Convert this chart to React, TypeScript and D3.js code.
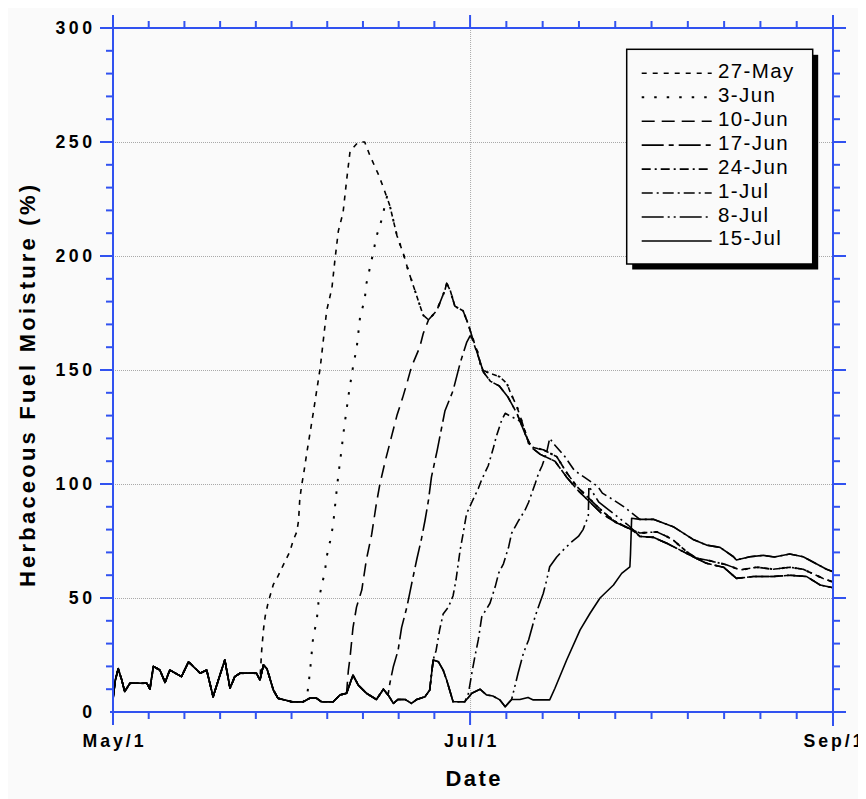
import React from "react";
import * as d3 from "d3";

type P = [number, number];

// x values are days counted from May 1 (May 1 = 0, Jul 1 = 61, Sep 1 = 123)
const xTickDays = [0, 61, 123];
const xTickLabels = ["May/1", "Jul/1", "Sep/1"];
const yTickValues = [0, 50, 100, 150, 200, 250, 300];
const yGridValues = [50, 100, 150, 200, 250];

const seriesNames = ["27-May", "3-Jun", "10-Jun", "17-Jun", "24-Jun", "1-Jul", "8-Jul", "15-Jul"];

// observed low (cured) moisture record shared by all series
const baseObs: P[] = [
  [0, 6], [0.4, 14], [0.9, 19], [1.5, 14], [2, 9], [2.9, 12.6], [5.8, 12.6], [6.3, 10], [6.9, 20],
  [8, 18.4], [8.9, 13], [9.7, 18.4], [11.7, 15.5], [12.9, 22], [14.9, 17], [16, 18.4], [17.1, 6.7],
  [18, 14], [19.1, 22.8], [20, 10.4], [20.8, 15.5], [21.7, 17], [24.5, 17], [25.1, 14], [25.7, 20.6],
  [26.3, 19], [27.4, 9.6], [28.2, 6], [30.5, 4.5], [32.5, 4.5], [33.6, 6], [34.8, 6], [35.6, 4.5],
  [37.6, 4.5], [38.8, 7.5], [39.9, 8.2], [41, 16.2], [41.9, 11.8], [43.3, 8.2], [45, 5.5], [46.2, 10],
  [47, 7.5], [47.9, 3.8], [48.7, 5.5], [49.9, 5.5], [51, 3.8], [51.9, 5.5], [53.3, 6.7], [54.1, 9.6],
  [54.7, 22.8], [55.6, 22], [56.4, 18.4], [57, 14], [58.1, 4.5], [60.1, 4.5], [61.3, 8.2], [62.7, 10],
  [63.8, 7.5], [64.9, 7], [66.1, 5.3], [67, 2.3], [68.1, 5.5], [69.5, 5.5], [70.9, 6.4], [71.8, 5.3],
  [74.6, 5.3],
];

const riseMay27: P[] = [
  [25.4, 27], [25.7, 36], [26, 42], [26.5, 48], [27.4, 56], [28, 58.6], [29.1, 64.5], [30.2, 70.3],
  [30.8, 75.4], [31.4, 79], [31.7, 84], [31.9, 93], [32.2, 99], [32.6, 105], [33.1, 113.5], [34.2, 131],
  [35.4, 151], [36.5, 176], [37.4, 186], [37.9, 198], [38.5, 211], [39.3, 219], [39.9, 233], [40.5, 246],
  [41.9, 250], [43, 250],
];
const riseJun3: P[] = [
  [33.1, 6], [33.4, 12], [33.7, 19], [34.2, 33], [34.8, 40], [35.1, 48], [35.6, 55], [36.2, 61.5],
  [36.5, 68], [37.1, 75], [37.6, 82], [38.2, 97], [38.5, 104], [38.8, 110], [39.5, 125], [40.3, 140],
  [41.1, 153], [41.6, 159], [42.2, 173], [43, 181], [43.3, 188], [43.9, 195], [44.5, 202], [45, 208.5],
  [45.9, 216], [46.8, 226],
];
const riseJun10: P[] = [
  [40.2, 18], [40.5, 24], [41, 37], [41.6, 46], [42.5, 53.5], [43.3, 67], [44.2, 78], [45, 91.5],
  [45.6, 100], [46.5, 110], [47.5, 120], [48.5, 130], [49.5, 138], [50.3, 145], [51, 151.5], [52.4, 160],
  [53, 166], [53.9, 172],
];
const riseJun17: P[] = [
  [47.3, 12.6], [47.9, 20], [48.7, 27], [49.3, 37], [50.2, 46], [51, 56], [51.9, 67], [52.7, 76],
  [53.3, 84], [53.9, 93], [54.4, 103], [55.4, 115], [56.7, 132], [58.1, 141], [59.3, 153], [60.4, 162],
  [61, 165],
];
const riseJun24: P[] = [
  [54.7, 23], [55.2, 27], [55.8, 36], [56.4, 43], [57.3, 46], [58.1, 51], [58.6, 58], [59.3, 71],
  [59.8, 78], [60.4, 87], [61.3, 92], [62.4, 98], [63, 102], [64.1, 108], [65, 116], [65.5, 121],
  [66.4, 128], [67, 131],
];
const riseJul1: P[] = [
  [60.7, 8], [61.3, 17], [61.8, 24], [62.4, 31.6], [63, 41.8], [64.4, 47.7], [65.3, 55], [65.9, 61],
  [66.7, 65], [67.6, 72.5], [68.1, 78.4], [69.3, 84], [70.4, 88.6], [71, 92], [72.1, 100], [72.7, 104.7],
  [73.3, 108], [74.1, 114], [74.6, 120], [75.5, 117], [77.2, 112], [78.8, 106], [80.5, 103], [82.8, 99],
  [83.6, 96], [85.5, 93], [87.3, 90],
];
const riseJul8: P[] = [
  [69.2, 17], [70.1, 25.7], [71, 31.6], [72.1, 41.8], [72.9, 47.7], [73.5, 52], [74.1, 58], [74.6, 63.7],
  [75.8, 68], [76.9, 71], [78.4, 74.7], [79.5, 77], [80.3, 80], [80.9, 84], [81.2, 86], [81.3, 99],
  [83, 92], [85.5, 87], [88, 82],
];
const riseJul15: P[] = [
  [75.5, 10.4], [77.5, 22.8], [79.8, 36], [81.5, 43.3], [83.2, 50], [85.5, 55.7], [86.9, 60.8],
  [88.3, 63.7], [88.4, 69], [88.6, 85],
];

const descentUpper: P[] = [
  [43, 250], [43.9, 244], [45.3, 236], [46.2, 230], [47.3, 222], [48.5, 209], [49.6, 201], [50.4, 194],
  [51.3, 187], [52.2, 180], [53, 174], [53.9, 172], [55.3, 176], [56.7, 185], [57, 188], [57.6, 185],
  [58.4, 178], [59.8, 176], [60.7, 170], [61.3, 165], [62.4, 157], [63, 150], [65, 148], [66.1, 147],
  [67.3, 144], [67.9, 140], [69, 134], [69.9, 127], [71, 118], [71.8, 116], [73.5, 115], [75.8, 112],
  [77.5, 105], [79.2, 99], [81.2, 94], [83.2, 89], [85.5, 84], [87.7, 81], [88.6, 80],
];
const descentLower: P[] = [
  [61.3, 164], [62.4, 156], [63.3, 149], [64.5, 145], [66, 143], [67.5, 138], [69, 131], [70.4, 122],
  [71.5, 116], [73, 113], [75.5, 110], [77.5, 103], [79.5, 97], [81.5, 92], [83.5, 87], [86, 83], [88.6, 80],
];
const bandTop: P[] = [
  [88.6, 85], [90, 84.5], [92.3, 84.5], [95.7, 81.3], [99.1, 75.7], [101.4, 73.2], [103.7, 72.2],
  [106, 68.1], [106.5, 66.7], [108.8, 68.1], [111.1, 68.7], [113, 68], [115.6, 69.3], [117.9, 68.1],
  [121.9, 62.6], [123, 61.5],
];
const bandMid: P[] = [
  [88.6, 80], [90, 78.5], [92.9, 79], [94.6, 77], [95.7, 75.4], [98, 70.3], [99.7, 67.4], [101.4, 66.7],
  [104.9, 64.5], [107.1, 62.3], [110, 63.5], [112.8, 62.6], [115.6, 63.5], [117.9, 62.6], [121.3, 58.6],
  [123, 57],
];
const bandLow: P[] = [
  [88.6, 79.8], [90, 77], [92.3, 76.6], [94.6, 74], [96.9, 71], [99.1, 68.1], [101.4, 65.2], [104.3, 63.5],
  [106.5, 58.6], [109.4, 59.4], [112.8, 59.4], [115.6, 60], [118.5, 59.4], [120.8, 55.7], [123, 54.5],
];

const pick = (arr: P[], from: number, to: number) => arr.filter(([d]) => d > from && d <= to);

const seriesData: P[][] = [
  [...pick(baseObs, -1, 25.1), ...riseMay27, ...pick(descentUpper, 43, 88.6), ...pick(bandMid, 88.6, 999)],
  [...pick(baseObs, -1, 32.5), ...riseJun3, ...pick(descentUpper, 46.8, 88.6), ...pick(bandMid, 88.6, 999)],
  [...pick(baseObs, -1, 39.9), ...riseJun10, ...pick(descentUpper, 53.9, 61.3), ...pick(descentLower, 61.3, 88.6), ...pick(bandLow, 88.6, 999)],
  [...pick(baseObs, -1, 47), ...riseJun17, ...pick(descentLower, 61, 88.6), ...pick(bandLow, 88.6, 999)],
  [...pick(baseObs, -1, 54.1), ...riseJun24, ...pick(descentUpper, 69.5, 88.6), ...pick(bandMid, 88.6, 999)],
  [...pick(baseObs, -1, 60.1), ...riseJul1, ...pick(bandTop, 89.5, 999)],
  [...pick(baseObs, -1, 68.1), ...riseJul8, ...pick(bandLow, 88.6, 999)],
  [...pick(baseObs, -1, 74.6), ...riseJul15, ...pick(bandTop, 88.6, 999)],
];

// styles
const seriesDash = ["5,6", "2.5,10", "13,7", "22,5,5,5", "9,4,2,4", "11,4,2,4", "22,4,2,4,2,4", ""];
const seriesWidth = [1.6, 2, 1.6, 1.6, 1.6, 1.6, 1.6, 1.6];
const FONT = "'Liberation Sans', Arial, Helvetica, sans-serif";
const BLUE = "#3152f0";

export default function App() {
  const x = d3.scaleLinear().domain([0, 123]).range([113, 833]);
  const y = d3.scaleLinear().domain([0, 300]).range([712, 28]);
  const line = d3.line<P>().x((d) => x(d[0])).y((d) => y(d[1]));

  const xMinor: number[] = [];
  for (let k = 0; k < xTickDays.length - 1; k++) {
    const a = xTickDays[k], b = xTickDays[k + 1];
    for (let i = 1; i < 10; i++) xMinor.push(a + ((b - a) * i) / 10);
  }
  const yMinor = d3.range(10, 300, 10).filter((v) => v % 50 !== 0);
  const xL = x(0), xR = x(123), yB = y(0), yT = y(300);

  const legX = 626.7, legY = 49.3, legW = 186, legH = 214.7;

  return (
    <>
      <style>{"html,body{overflow:hidden;}"}</style>
      <svg width={858} height={791} style={{ display: "block", background: "#fafafa" }}>
        <g transform="translate(-8,-8)">
          {/* grid */}
          {yGridValues.map((v) => (
            <line key={"gy" + v} x1={xL} x2={xR} y1={y(v) + 0.5} y2={y(v) + 0.5} stroke="#a9a9a9" strokeWidth={1} strokeDasharray="1,1" />
          ))}
          {xTickDays.slice(1, -1).map((d) => (
            <line key={"gx" + d} x1={x(d) + 0.5} x2={x(d) + 0.5} y1={yT} y2={yB} stroke="#a9a9a9" strokeWidth={1} strokeDasharray="1,1" />
          ))}

          {/* series */}
          {seriesData.map((s, i) => (
            <path key={seriesNames[i]} d={line(s) || ""} fill="none" stroke="#000" strokeWidth={seriesWidth[i]}
              strokeDasharray={seriesDash[i] || undefined} strokeLinejoin="round" />
          ))}

          {/* axes frame */}
          <g stroke={BLUE} strokeWidth={2}>
            <line x1={xL} x2={xL} y1={15} y2={725} />
            <line x1={xR} x2={xR} y1={15} y2={726} />
            <line x1={100} x2={846} y1={yT} y2={yT} />
            <line x1={110} x2={846} y1={yB} y2={yB} />
            {yMinor.map((v) => (
              <g key={"ym" + v}>
                <line x1={xL - 7} x2={xL} y1={y(v)} y2={y(v)} />
                <line x1={xR} x2={xR + 7} y1={y(v)} y2={y(v)} />
              </g>
            ))}
            {yGridValues.map((v) => (
              <g key={"yM" + v}>
                <line x1={xL - 13} x2={xL} y1={y(v)} y2={y(v)} />
                <line x1={xR} x2={xR + 13} y1={y(v)} y2={y(v)} />
              </g>
            ))}
            {xMinor.map((d, i) => (
              <g key={"xm" + i}>
                <line x1={x(d)} x2={x(d)} y1={yB} y2={yB + 7} />
                <line x1={x(d)} x2={x(d)} y1={yT} y2={yT - 7} />
              </g>
            ))}
            {xTickDays.slice(1, -1).map((d) => (
              <g key={"xM" + d}>
                <line x1={x(d)} x2={x(d)} y1={yB} y2={yB + 13} />
                <line x1={x(d)} x2={x(d)} y1={yT} y2={yT - 13} />
              </g>
            ))}
          </g>

          {/* tick labels */}
          {yTickValues.map((v) => (
            <text key={"yl" + v} x={92 + 3.5} y={y(v) + 6} textAnchor="end" fontFamily={FONT} fontWeight="bold"
              fontSize={17.7} letterSpacing={3.5} fill="#000">{v}</text>
          ))}
          {xTickDays.map((d, i) => (
            <text key={"xl" + d} x={x(d) + 1.5} y={747} textAnchor="middle" fontFamily={FONT} fontWeight="bold"
              fontSize={17.7} letterSpacing={3} fill="#000">{xTickLabels[i]}</text>
          ))}

          {/* axis titles */}
          <text x={473} y={786} textAnchor="middle" fontFamily={FONT} fontWeight="bold" fontSize={22}
            textLength={55} lengthAdjust="spacing" fill="#000">Date</text>
          <text transform="translate(35,386) rotate(-90)" textAnchor="middle" fontFamily={FONT} fontWeight="bold"
            fontSize={22} textLength={402} lengthAdjust="spacing" fill="#000">Herbaceous Fuel Moisture (%)</text>

          {/* legend */}
          <rect x={legX + 5.5} y={legY + 5.5} width={legW} height={legH} fill="#000" />
          <rect x={legX} y={legY} width={legW} height={legH} fill="#fafafa" stroke="#000" strokeWidth={1.5} />
          {seriesNames.map((n, i) => {
            const ly = 73.3 + i * 23.95;
            return (
              <g key={"lg" + n}>
                <line x1={641.7} x2={711.7} y1={ly} y2={ly} stroke="#000" strokeWidth={seriesWidth[i]}
                  strokeDasharray={seriesDash[i] || undefined} />
                <text x={718} y={ly + 4.5} fontFamily={FONT} fontSize={20.5} letterSpacing={1.4} fill="#000">{n}</text>
              </g>
            );
          })}
        </g>
      </svg>
    </>
  );
}
